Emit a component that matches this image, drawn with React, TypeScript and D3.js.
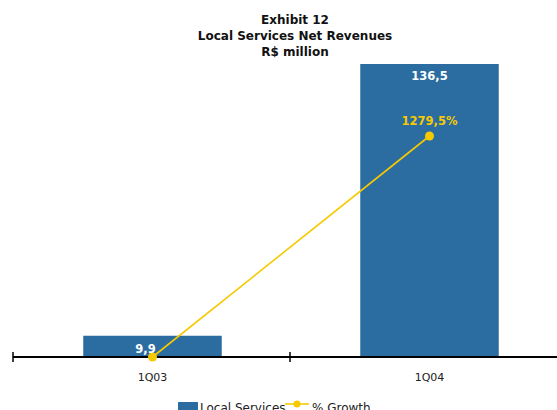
import React from "react";
import * as d3 from "d3";

const categories = ["1Q03", "1Q04"];
const localServices = [9.9, 136.5];
const growth = [0, 1279.5];
const barLabels = ["9,9", "136,5"];
const growthLabels = ["", "1279,5%"];
const titleLines = ["Exhibit  12", "Local Services Net Revenues", "R$ million"];

const W = 557;
const H = 410;
const BAR = "#2B6DA1";
const YEL = "#F7C900";
const FONT = "'DejaVu Sans', Verdana, sans-serif";

export default function App() {
  const x = d3.scaleBand<string>().domain(categories).range([14, 568]).paddingInner(0).paddingOuter(0);
  const baseY = 357;
  const y = d3.scaleLinear().domain([0, 136.5]).range([baseY, 64]);
  const y2 = d3.scaleLinear().domain([0, 1279.5]).range([baseY, 136]);
  const bw = x.bandwidth() * 0.5;
  const cx = (c: string) => (x(c) as number) + x.bandwidth() / 2;
  const line = d3
    .line<number>()
    .x((_, i) => cx(categories[i]))
    .y((d) => y2(d));
  const ticks = [13, 290, 567];
  return (
    <svg width={W} height={H} style={{ position: "absolute", left: 0, top: 0, fontFamily: FONT }}>
      <rect width={W} height={H} fill="#fff" />
      {titleLines.map((t, i) => (
        <text key={i} x={295} y={24 + i * 16} textAnchor="middle" fontSize={12} fontWeight="bold" fill="#111">
          {t}
        </text>
      ))}
      {categories.map((c, i) => (
        <rect key={c} x={cx(c) - bw / 2} y={y(localServices[i])} width={bw} height={baseY - y(localServices[i])} fill={BAR} />
      ))}
      <line x1={13} x2={W} y1={baseY} y2={baseY} stroke="#000" strokeWidth={2} />
      {ticks.map((t, i) => (
        <line key={i} x1={t} x2={t} y1={baseY - 5} y2={baseY + 5} stroke="#000" strokeWidth={1.5} />
      ))}
      {categories.map((c) => (
        <text key={c} x={cx(c)} y={381} textAnchor="middle" fontSize={11} fill="#222">
          {c}
        </text>
      ))}
      <path d={line(growth) || ""} fill="none" stroke={YEL} strokeWidth={1.6} />
      {categories.map((c, i) => (
        <circle key={c} cx={cx(c)} cy={y2(growth[i])} r={4.5} fill={YEL} />
      ))}
      {categories.map((c, i) => (
        <text
          key={c}
          x={cx(c) - (i === 0 ? 7 : 0)}
          y={i === 0 ? y(localServices[i]) + 17 : y(localServices[i]) + 16}
          textAnchor="middle"
          fontSize={11.5}
          fontWeight="bold"
          fill="#fff"
        >
          {barLabels[i]}
        </text>
      ))}
      {categories.map((c, i) =>
        growthLabels[i] ? (
          <text key={c} x={cx(c)} y={y2(growth[i]) - 11} textAnchor="middle" fontSize={11.5} fontWeight="bold" fill={YEL}>
            {growthLabels[i]}
          </text>
        ) : null
      )}
      <g>
        <rect x={178} y={402} width={20} height={10} fill={BAR} />
        <text x={200} y={412} fontSize={12} fill="#222">Local Services</text>
        <line x1={285} x2={309} y1={404} y2={404} stroke={YEL} strokeWidth={1.6} />
        <circle cx={297} cy={404} r={3.5} fill={YEL} />
        <text x={312} y={412} fontSize={12} fill="#222">% Growth</text>
      </g>
    </svg>
  );
}
